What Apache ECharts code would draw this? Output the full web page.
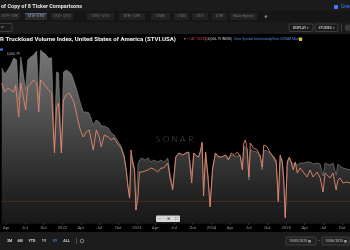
<!DOCTYPE html>
<html><head><meta charset="utf-8">
<script src="https://cdn.jsdelivr.net/npm/echarts@6/dist/echarts.min.js"></script>
<style>html,body{margin:0;padding:0;background:#000;}#c{width:350px;height:250px;}</style>
</head><body><div id="c"></div>
<script>
const dates = ['2021-03-10','2021-03-25','2021-04-08','2021-04-23','2021-05-08','2021-05-17','2021-05-22','2021-06-01','2021-06-11','2021-06-20','2021-07-05','2021-07-15','2021-07-29','2021-08-13','2021-08-28','2021-09-07','2021-09-16','2021-09-26','2021-10-10','2021-10-25','2021-11-09','2021-11-23','2021-12-03','2021-12-13','2021-12-27',
'2022-01-06','2022-01-20','2022-02-04','2022-02-14','2022-02-28','2022-03-15','2022-03-30','2022-04-13','2022-04-28','2022-05-12','2022-06-01','2022-06-16','2022-06-30','2022-07-10','2022-07-25','2022-08-13','2022-08-28','2022-09-11','2022-09-26','2022-10-15','2022-10-30','2022-11-09','2022-11-18','2022-11-26','2022-12-03','2022-12-13','2022-12-20','2022-12-27',
'2023-01-06','2023-01-13','2023-01-25','2023-02-09','2023-02-24','2023-03-10','2023-03-25','2023-04-13','2023-04-28','2023-05-12','2023-06-01','2023-06-11','2023-06-25','2023-07-10','2023-07-25','2023-08-13','2023-08-28','2023-09-11','2023-09-26','2023-10-06','2023-10-20','2023-10-30','2023-11-09','2023-11-16','2023-11-23','2023-12-03','2023-12-15','2023-12-25',
'2024-01-06','2024-01-20','2024-02-04','2024-02-19','2024-03-09','2024-03-24','2024-04-07','2024-04-22','2024-05-07','2024-05-21','2024-05-31','2024-06-07','2024-06-15','2024-06-24','2024-07-02','2024-07-09','2024-07-24','2024-08-12','2024-08-27','2024-09-05','2024-09-13','2024-09-30','2024-10-15','2024-10-29','2024-11-13','2024-11-23','2024-12-02','2024-12-12','2024-12-19','2024-12-27',
'2025-01-06','2025-01-16','2025-01-25','2025-02-04','2025-02-14','2025-02-24','2025-03-10','2025-03-25','2025-04-13','2025-04-28','2025-05-12','2025-06-01','2025-06-16','2025-06-30','2025-07-10','2025-07-20','2025-08-03','2025-08-18','2025-09-02','2025-09-11','2025-09-21','2025-10-06','2025-10-25','2025-11-09'];

const stvi = [11750,11450,11650,11900,12250,12250,12150,10150,12300,12300,10650,12150,12300,12400,12600,10150,12650,12550,12450,12250,12250,7650,11550,11500,7650,
11550,11650,11550,11450,11050,10550,10000,9550,9550,9500,8900,9150,9050,8850,8850,8750,8500,8400,8150,7850,7400,6750,5900,5250,7400,7050,6750,4650,
6900,7150,7250,7150,7250,7050,7150,7050,7150,7050,7250,6550,5750,7300,7500,7400,7500,7550,6400,7500,7350,7300,7650,7950,5650,7550,6350,4900,
6750,7500,7350,7300,7400,7250,7400,7350,7350,7400,6750,7850,7900,7650,6150,7650,7600,7550,7400,6650,7650,7600,7500,7350,7150,5150,7300,7150,6250,4300,
7150,7250,7050,6950,7000,6900,7000,7000,7050,7050,6950,7000,6950,6350,7000,6950,6900,7000,6400,6950,6850,6750,6700,6650];

const compare = [11000,10550,10750,10650,10550,10900,10950,9300,11000,10900,9650,10800,10950,11150,11000,9550,11150,11050,10850,10650,10500,7500,9750,10000,7500,
10150,10400,10500,10300,10000,9250,8650,8300,8550,8650,7650,8650,8300,7800,8400,8300,8150,8250,8000,7750,7300,6650,5800,5250,7650,6900,6650,4650,
5300,6550,6550,6600,6650,6750,6700,6550,6750,6750,7000,6300,5650,7300,7500,7400,7500,7550,6000,7500,7350,7300,7650,8050,5350,7550,6250,4800,
6650,7500,7300,7300,7400,7150,7500,7400,7550,7300,6650,8000,8150,7650,6300,8000,7750,7650,7300,6800,7900,7800,7500,7300,7000,5050,7400,7050,6300,4250,
7000,7300,7050,6650,7050,6500,6750,6550,6300,6650,6300,6550,6250,5550,6500,6400,6250,6500,5650,6150,6250,6000,6050,6000];

const quarterTicks = ['2021-04-01','2021-07-01','2021-10-01','2022-01-01','2022-04-01','2022-07-01','2022-10-01','2023-01-01','2023-04-01','2023-07-01','2023-10-01','2024-01-01','2024-04-01','2024-07-01','2024-10-01','2025-01-01','2025-04-01','2025-07-01','2025-10-01'];
const monthNames = ['Jan','Feb','Mar','Apr','May','Jun','Jul','Aug','Sep','Oct','Nov','Dec'];
const refLevel = 5100;
const xStart = '2021-03-10', xEnd = '2025-11-09';

const tabs = [
  {t:'STVI \u2022 STRI', x:0, w:20},
  {t:'STVI \u2022 STVI', x:25, w:22, sel:true},
  {t:'STVI \u2022 OTVI', x:51, w:22},
  {t:'OTVI \u2022 STVI', x:87, w:27},
  {t:'OTRI \u2022 STRI', x:119, w:26},
  {t:'OTMS', x:151, w:19},
  {t:'STMS', x:174, w:15},
  {t:'OTVI', x:192, w:16},
  {t:'OTRI', x:212, w:15},
  {t:'Route Rejects', x:230, w:27}
];

const F = 'Roboto, "Liberation Sans", sans-serif';
const g = [];
g.push({type:'rect', shape:{x:0,y:0,width:350,height:11}, style:{fill:'#1b1b1b'}, z:10});
g.push({type:'rect', shape:{x:0,y:11,width:350,height:11}, style:{fill:'#161616'}, z:10});
g.push({type:'rect', shape:{x:0,y:22,width:350,height:12}, style:{fill:'#1b1b1b'}, z:10});
g.push({type:'text', x:1, y:7, style:{text:'of Copy of 8 Ticker Comparisons', fill:'#e6e6e6', font:'bold 5.5px '+F, verticalAlign:'middle'}, z:11});
g.push({type:'rect', shape:{x:334,y:5,width:4,height:4,r:0.8}, style:{fill:'#3b82f6'}, z:11});
g.push({type:'text', x:341, y:7, style:{text:'Give fe', fill:'#3b82f6', font:'4.5px '+F, verticalAlign:'middle'}, z:11});
tabs.forEach(tb => {
  g.push({type:'rect', shape:{x:tb.x,y:13,width:tb.w,height:7}, style:{fill: tb.sel ? '#2c2c2c' : '#222'}, z:11});
  if (tb.sel) g.push({type:'rect', shape:{x:tb.x,y:13,width:tb.w,height:0.6}, style:{fill:'#5a8fd8'}, z:12});
  g.push({type:'text', x:tb.x+tb.w/2, y:16.5, style:{text:tb.t, fill: tb.sel ? '#bbb' : '#777', font:'3.3px '+F, align:'center', verticalAlign:'middle'}, z:12});
});
g.push({type:'text', x:266, y:16.5, style:{text:'+', fill:'#aaa', font:'bold 6px '+F, align:'center', verticalAlign:'middle'}, z:12});
g.push({type:'rect', shape:{x:-4,y:23.5,width:16,height:8,r:1}, style:{fill:'#1b1b1b', stroke:'#555', lineWidth:0.6}, z:11});
g.push({type:'text', x:1, y:27.5, style:{text:'w', fill:'#aaa', font:'3.5px '+F, verticalAlign:'middle'}, z:12});
g.push({type:'rect', shape:{x:289,y:24,width:24,height:7.5,r:1}, style:{fill:'#1b1b1b', stroke:'#555', lineWidth:0.6}, z:11});
g.push({type:'text', x:301, y:27.8, style:{text:'DISPLAY \u25BE', fill:'#bbb', font:'bold 3.3px '+F, align:'center', verticalAlign:'middle'}, z:12});
g.push({type:'rect', shape:{x:315,y:24,width:23,height:7.5,r:1}, style:{fill:'#1b1b1b', stroke:'#555', lineWidth:0.6}, z:11});
g.push({type:'text', x:326.5, y:27.8, style:{text:'STUDIES \u25BE', fill:'#bbb', font:'bold 3.3px '+F, align:'center', verticalAlign:'middle'}, z:12});
g.push({type:'rect', shape:{x:341,y:24,width:0.6,height:7.5}, style:{fill:'#555'}, z:11});
g.push({type:'circle', shape:{cx:348,cy:27.8,r:3.2}, style:{fill:'#3a3a3a'}, z:11});
g.push({type:'text', x:-4, y:39.5, style:{text:'AR Truckload Volume Index, United States of America (STVI.USA)', fill:'#f2f2f2', font:'bold 6.1px '+F, verticalAlign:'middle'}, z:11});
g.push({type:'text', x:183, y:39.5, style:{text:'\u25BC -1.47 (-0.02%)', fill:'#e05252', font:'3.4px '+F, verticalAlign:'middle'}, z:11});
g.push({type:'rect', shape:{x:205.5,y:37.5,width:0.5,height:4}, style:{fill:'#666'}, z:11});
g.push({type:'text', x:208, y:39.5, style:{text:'6,066.19 INDEX', fill:'#ccc', font:'3.4px '+F, verticalAlign:'middle'}, z:11});
g.push({type:'rect', shape:{x:231.5,y:37.5,width:0.5,height:4}, style:{fill:'#666'}, z:11});
g.push({type:'text', x:234, y:39.5, style:{text:'View Symbol Information', fill:'#4a8fe0', font:'3.4px '+F, verticalAlign:'middle'}, z:11});
g.push({type:'rect', shape:{x:270.5,y:37.5,width:0.5,height:4}, style:{fill:'#666'}, z:11});
g.push({type:'text', x:272, y:39.5, style:{text:'View SONAR Market', fill:'#4a8fe0', font:'3.4px '+F, verticalAlign:'middle'}, z:11});
g.push({type:'rect', shape:{x:299,y:37.5,width:3,height:3.5,r:0.5}, style:{fill:'#e6c229'}, z:11});
g.push({type:'rect', shape:{x:0,y:48.5,width:3,height:2}, style:{fill:'#3b82f6'}, z:11});
g.push({type:'text', x:7, y:54, style:{text:'6,066.79', fill:'#bbb', font:'3.3px '+F, verticalAlign:'middle'}, z:11});
['S','O','N','A','R'].forEach((ch,i) => {
  g.push({type:'text', x:158+i*8.2, y:139, style:{text:ch, fill:'#4d4d4d', font:'300 8.5px Lato, '+F, align:'center', verticalAlign:'middle'}, z:1});
});
g.push({type:'rect', shape:{x:156,y:215.5,width:24,height:6.5,r:1}, style:{fill:'#d6d6d6'}, z:11});
['\u2212','\u2295','\u26F6'].forEach((ch,i) => {
  g.push({type:'text', x:160+i*8, y:218.8, style:{text:ch, fill:'#444', font:'4px '+F, align:'center', verticalAlign:'middle'}, z:12});
});
g.push({type:'rect', shape:{x:0,y:232,width:350,height:18}, style:{fill:'#1c1c1c'}, z:10});
[['3M',9.5],['6M',20],['YTD',32],['1Y',44],['5Y',55],['ALL',66.5]].forEach(b => {
  g.push({type:'text', x:b[1], y:241, style:{text:b[0], fill: b[0]==='5Y' ? '#3b82f6' : '#ddd', font:'bold 3.6px '+F, align:'center', verticalAlign:'middle'}, z:11});
});
g.push({type:'rect', shape:{x:76,y:238,width:0.6,height:6}, style:{fill:'#777'}, z:11});
g.push({type:'circle', shape:{cx:82,cy:241,r:1.8}, style:{fill:'none', stroke:'#999', lineWidth:0.8}, z:11});
g.push({type:'rect', shape:{x:286,y:237,width:30,height:8,r:1}, style:{fill:'#222', stroke:'#555', lineWidth:0.6}, z:11});
g.push({type:'text', x:289, y:241, style:{text:'10/03/2020 \u25A6', fill:'#ccc', font:'3.4px '+F, verticalAlign:'middle'}, z:12});
g.push({type:'text', x:319, y:241, style:{text:'\u2013', fill:'#aaa', font:'4px '+F, align:'center', verticalAlign:'middle'}, z:12});
g.push({type:'rect', shape:{x:322,y:237,width:27,height:8,r:1}, style:{fill:'#222', stroke:'#555', lineWidth:0.6}, z:11});
g.push({type:'text', x:325, y:241, style:{text:'10/06/2025 \u25A6', fill:'#ccc', font:'3.4px '+F, verticalAlign:'middle'}, z:12});

const T = s => Date.parse(s);
const tickTs = quarterTicks.map(T);
const chart = echarts.init(document.getElementById('c'), null, {renderer:'canvas'});
chart.setOption({
  backgroundColor:'#000',
  animation:false,
  grid:{left:0, right:0, top:45, bottom:27, containLabel:false},
  xAxis:{
    type:'value', min:T(xStart), max:T(xEnd),
    axisLine:{show:true, lineStyle:{color:'#111'}},
    axisTick:{show:true, customValues:tickTs, length:2, lineStyle:{color:'#555', width:0.5}},
    splitLine:{show:false},
    axisLabel:{customValues:tickTs, color:'#999', fontSize:4.2, fontFamily:F, margin:3,
      formatter:function(v){ const d=new Date(v); const m=d.getUTCMonth(); return m===0 ? String(d.getUTCFullYear()) : monthNames[m]; }}
  },
  yAxis:{type:'value', min:4000, max:12900, show:false, splitLine:{show:false}},
  series:[
    {type:'line', name:'STVI.USA', data:dates.map((d,i)=>[T(d),stvi[i]]), symbol:'none', z:2,
      lineStyle:{color:'#8a8a8a', width:0.6},
      areaStyle:{origin:'start', color:{type:'linear', x:0,y:0,x2:0,y2:1, colorStops:[
        {offset:0,color:'#aaaaaa'},{offset:0.45,color:'#686868'},{offset:0.8,color:'#353535'},{offset:1,color:'#222222'}]}},
      markLine:{silent:true, symbol:'none', label:{show:false},
        lineStyle:{color:'#8a3a2a', type:'dotted', width:0.8}, data:[{yAxis:refLevel}]}
    },
    {type:'line', name:'Compare', data:dates.map((d,i)=>[T(d),compare[i]]), symbol:'none', z:3,
      lineStyle:{color:'#e4876b', width:0.9}}
  ],
  graphic:g
});
</script></body></html>
